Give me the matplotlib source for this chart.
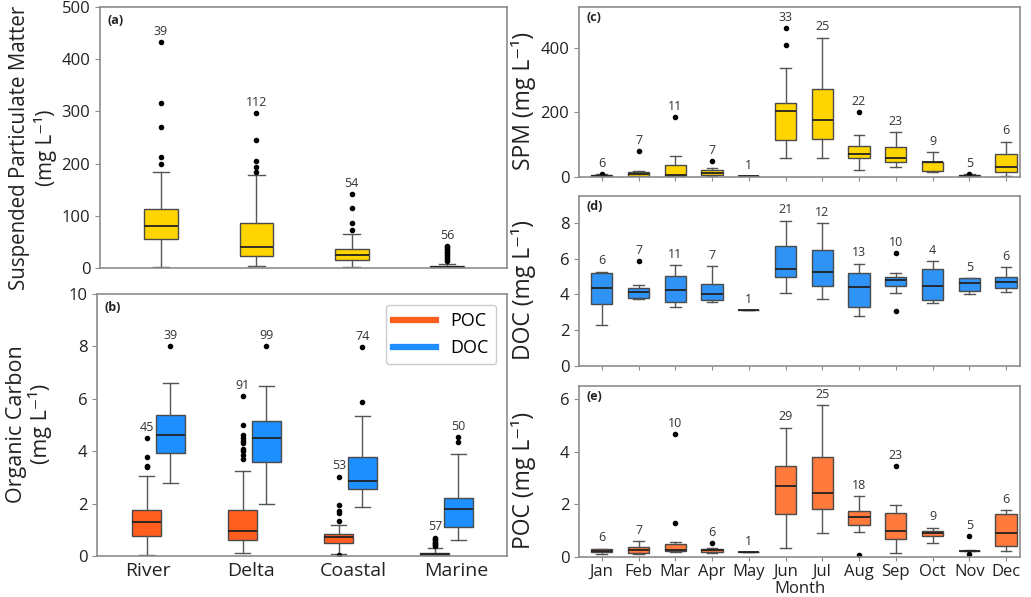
import matplotlib.pyplot as plt
import numpy as np
from matplotlib.lines import Line2D

plt.rcParams['font.family'] = ['Open Sans', 'DejaVu Sans']

# ---- data ----
sites = ['River', 'Delta', 'Coastal', 'Marine']
months = ['Jan', 'Feb', 'Mar', 'Apr', 'May', 'Jun', 'Jul', 'Aug', 'Sep', 'Oct', 'Nov', 'Dec']

# boxes are (whisker low, Q1, median, Q3, whisker high)
spm_site_box = [(1, 56, 80, 113, 183), (4, 23, 41, 87, 179), (1, 16, 24, 36, 65), (0, 0.5, 1, 3, 7)]
spm_site_fliers = [[200, 213, 271, 316, 432], [183, 194, 205, 245, 296], [72, 86, 114, 141],
                   [14, 18, 22, 25, 28, 31, 34, 37, 40, 42]]
spm_site_n = [39, 112, 54, 56]

poc_site_box = [(0.05, 0.77, 1.29, 1.76, 3.05), (0.11, 0.6, 0.97, 1.75, 3.23),
                (0.06, 0.51, 0.73, 0.84, 1.17), (0.0, 0.02, 0.06, 0.12, 0.3)]
poc_site_fliers = [[3.38, 3.42, 3.77, 4.5], [3.7, 3.85, 4.0, 4.1, 4.3, 4.4, 4.5, 4.6, 5.0, 6.1],
                   [0.05, 1.32, 1.65, 1.72, 1.93, 3.03], [0.38, 0.42, 0.46, 0.5, 0.55, 0.6, 0.65, 0.7]]
poc_site_n = [45, 91, 53, 57]

doc_site_box = [(2.8, 3.95, 4.6, 5.38, 6.6), (2.0, 3.57, 4.52, 5.15, 6.48),
                (1.88, 2.54, 2.87, 3.79, 5.34), (0.62, 1.11, 1.81, 2.23, 3.89)]
doc_site_fliers = [[8.0], [8.02], [5.88, 7.96], [4.37, 4.55]]
doc_site_n = [39, 99, 74, 50]

spm_month_box = [(0, 1, 3, 5, 8), (1, 4, 8, 16, 20), (0, 2, 5, 38, 66), (2, 6, 12, 22, 28),
                 (3, 3, 3, 3, 3), (58, 115, 205, 230, 338), (58, 117, 177, 272, 432),
                 (22, 60, 72, 95, 130), (31, 45, 60, 92, 138), (15, 18, 45, 48, 78),
                 (1, 2, 4, 6, 8), (2, 16, 32, 70, 110)]
spm_month_fliers = [[9], [80], [187], [50], [], [410, 462], [], [200], [], [], [9], []]
spm_month_n = [6, 7, 11, 7, 1, 33, 25, 22, 23, 9, 5, 6]

doc_month_box = [(2.3, 3.45, 4.37, 5.2, 5.28), (3.75, 3.8, 4.13, 4.38, 4.5), (3.3, 3.57, 4.22, 5.05, 5.62),
                 (3.57, 3.7, 4.05, 4.56, 5.58), (3.12, 3.12, 3.12, 3.12, 3.12), (4.07, 5.0, 5.43, 6.68, 8.13),
                 (3.72, 4.45, 5.28, 6.5, 7.98), (2.8, 3.3, 4.4, 5.2, 5.72), (4.1, 4.48, 4.8, 5.0, 5.2),
                 (3.53, 3.67, 4.47, 5.4, 5.85), (4.02, 4.2, 4.62, 4.93, 4.93), (4.15, 4.37, 4.7, 4.98, 5.55)]
doc_month_fliers = [[], [5.87], [], [], [], [], [], [], [3.1, 6.32], [], [], []]
doc_month_n = [6, 7, 11, 7, 1, 21, 12, 13, 10, 4, 5, 6]

poc_month_box = [(0.1, 0.2, 0.24, 0.29, 0.32), (0.12, 0.14, 0.25, 0.38, 0.6), (0.2, 0.22, 0.25, 0.48, 0.57),
                 (0.16, 0.2, 0.26, 0.32, 0.34), (0.2, 0.2, 0.2, 0.2, 0.2), (0.35, 1.62, 2.7, 3.45, 4.92),
                 (0.9, 1.82, 2.45, 3.8, 5.77), (0.95, 1.23, 1.53, 1.73, 2.3), (0.14, 0.67, 1.0, 1.67, 1.97),
                 (0.55, 0.8, 0.9, 0.98, 1.12), (0.22, 0.22, 0.23, 0.24, 0.26), (0.22, 0.4, 0.92, 1.65, 1.78)]
poc_month_fliers = [[], [], [1.28, 4.67], [0.52], [], [], [], [0.07], [3.45], [], [0.12, 0.8], []]
poc_month_n = [6, 7, 10, 6, 1, 29, 25, 18, 23, 9, 5, 6]

# ---- styling ----
SPM_C = '#FFD500'
POC_C = '#FF5E1F'
POC_C2 = '#FF7A3C'
DOC_C = '#1E8FFF'
DOC_C2 = '#2E93F5'
SPINE = '#8c8c8c'
TXT = '#222222'
UNIT = '(mg L\u207b\u00b9)'


def draw_boxes(ax, boxes, fliers, counts, pos, width, color):
    stats = [dict(whislo=b[0], q1=b[1], med=b[2], q3=b[3], whishi=b[4], fliers=f)
             for b, f in zip(boxes, fliers)]
    ax.bxp(stats, positions=pos, widths=width, patch_artist=True, manage_ticks=False,
           boxprops=dict(facecolor=color, edgecolor='#4a4a4a', linewidth=1.0),
           medianprops=dict(color='#222222', linewidth=1.3),
           whiskerprops=dict(color='#555555', linewidth=1.0),
           capprops=dict(color='#555555', linewidth=1.0),
           flierprops=dict(marker='o', markersize=3, markerfacecolor='black',
                           markeredgecolor='black'))
    for p, b, f, n in zip(pos, boxes, fliers, counts):
        top = max([b[4]] + list(f))
        ax.annotate(str(n), (p, top), xytext=(0, 3), textcoords='offset points',
                    ha='center', va='bottom', fontsize=9, color='#333333')


def style(ax, tag):
    for s in ax.spines.values():
        s.set_color(SPINE)
        s.set_linewidth(1.2)
    ax.tick_params(axis='y', labelsize=12, colors=SPINE, labelcolor=TXT, length=3.5)
    ax.tick_params(axis='x', colors=SPINE, labelcolor=TXT, length=3)
    ax.text(0.018, 0.975, tag, transform=ax.transAxes, ha='left', va='top',
            fontsize=9, fontweight='bold', color=TXT)


fig = plt.figure(figsize=(10.31, 5.97), dpi=100)
W, H = 1031, 597


def add_axes(l, t, r, b):
    return fig.add_axes([l / W, 1 - b / H, (r - l) / W, (b - t) / H])


ax_a = add_axes(100, 7, 507, 268)
ax_b = add_axes(97, 294, 507, 556)
ax_c = add_axes(579, 7, 1020, 177)
ax_d = add_axes(579, 196, 1020, 366)
ax_e = add_axes(579, 386, 1020, 557)

# site panels
group = 1.10 + 0.937 * np.arange(len(sites))

draw_boxes(ax_a, spm_site_box, spm_site_fliers, spm_site_n, group, 0.33, SPM_C)
ax_a.set_xlim(0.5, 4.5)
ax_a.set_ylim(0, 500)
ax_a.set_xticks([])
ax_a.set_yticks([0, 100, 200, 300, 400, 500])
ax_a.set_ylabel('Suspended Particulate Matter\n' + UNIT, fontsize=14.8, color=TXT,
                linespacing=1.25)
ax_a.yaxis.set_label_coords(-0.105, 0.46)
style(ax_a, '(a)')

draw_boxes(ax_b, poc_site_box, poc_site_fliers, poc_site_n, group - 0.115, 0.285, POC_C)
draw_boxes(ax_b, doc_site_box, doc_site_fliers, doc_site_n, group + 0.115, 0.285, DOC_C)
ax_b.set_xlim(0.5, 4.5)
ax_b.set_ylim(0, 10)
ax_b.set_xticks(np.arange(1, 5), sites)
ax_b.set_yticks([0, 2, 4, 6, 8, 10])
ax_b.set_ylabel('Organic Carbon\n' + UNIT, fontsize=15.5, color=TXT, linespacing=1.05)
ax_b.yaxis.set_label_coords(-0.11, 0.505)
style(ax_b, '(b)')
ax_b.tick_params(axis='x', length=0, labelsize=14, pad=4)
handles = [Line2D([], [], color=POC_C, lw=4.5), Line2D([], [], color=DOC_C, lw=4.5)]
ax_b.legend(handles, ['POC', 'DOC'], loc='upper right', fontsize=13, handlelength=2.4,
            framealpha=1, edgecolor='#cccccc', borderaxespad=0.6)

# month panels
mpos = np.arange(1, 13)

draw_boxes(ax_c, spm_month_box, spm_month_fliers, spm_month_n, mpos, 0.58, SPM_C)
ax_c.set_ylim(0, 527)
ax_c.set_yticks([0, 200, 400])
ax_c.set_ylabel('SPM ' + UNIT, fontsize=16.5, color=TXT)

draw_boxes(ax_d, doc_month_box, doc_month_fliers, doc_month_n, mpos, 0.58, DOC_C2)
ax_d.set_ylim(0, 9.5)
ax_d.set_yticks([0, 2, 4, 6, 8])
ax_d.set_ylabel('DOC ' + UNIT, fontsize=16.5, color=TXT)

draw_boxes(ax_e, poc_month_box, poc_month_fliers, poc_month_n, mpos, 0.58, POC_C2)
ax_e.set_ylim(0, 6.5)
ax_e.set_yticks([0, 2, 4, 6])
ax_e.set_ylabel('POC ' + UNIT, fontsize=16.5, color=TXT)
ax_e.set_xlabel('Month', fontsize=12, color=TXT, labelpad=1)

for ax, tag in [(ax_c, '(c)'), (ax_d, '(d)'), (ax_e, '(e)')]:
    ax.set_xlim(0.38, 12.38)
    ax.set_xticks(mpos)
    ax.yaxis.set_label_coords(-0.097, 0.45)
    style(ax, tag)
ax_c.set_xticklabels([])
ax_d.set_xticklabels([])
ax_e.set_xticklabels(months)
ax_e.tick_params(axis='x', labelsize=12, pad=2)

fig.savefig('out.png', dpi=100)
